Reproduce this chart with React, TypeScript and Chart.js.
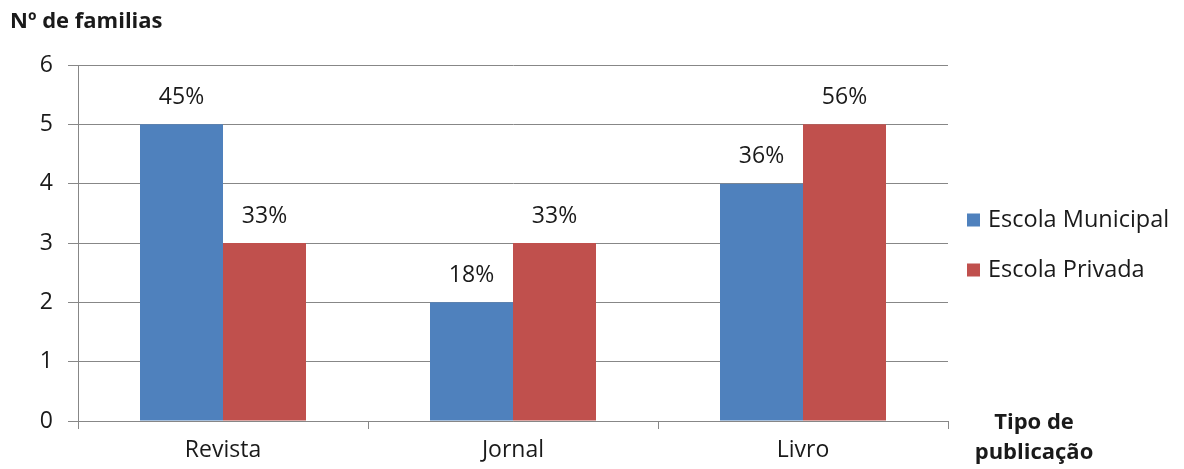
import React, { useEffect, useRef } from 'react';
import { Chart, registerables } from 'chart.js';

Chart.register(...registerables);

const categories = ['Revista', 'Jornal', 'Livro'];
const municipal = [5, 2, 4];
const privada = [3, 3, 5];
const municipalLabels = ['45%', '18%', '36%'];
const privadaLabels = ['33%', '33%', '56%'];
const seriesNames = ['Escola Municipal', 'Escola Privada'];
const seriesColors = ['#4F81BD', '#C0504D'];
const yTitle = 'Nº de familias';
const xTitleLines = ['Tipo de', 'publicação'];

const FONT = "'Open Sans', Lato, sans-serif";
const GRID = '#878787';
const TEXT = '#1a1a1a';

export default function App() {
  const ref = useRef<HTMLCanvasElement | null>(null);

  useEffect(() => {
    if (!ref.current) return;
    const labelSets = [municipalLabels, privadaLabels];
    const extras = {
      id: 'extras',
      afterDatasetsDraw(chart: any) {
        const ctx = chart.ctx;
        ctx.save();
        ctx.font = `23px ${FONT}`;
        ctx.fillStyle = TEXT;
        ctx.textAlign = 'center';
        ctx.textBaseline = 'middle';
        chart.data.datasets.forEach((_: any, di: number) => {
          const meta = chart.getDatasetMeta(di);
          meta.data.forEach((el: any, i: number) => {
            ctx.fillText(labelSets[di][i], el.x, el.y - 27);
          });
        });
        ctx.restore();
      },
      afterDraw(chart: any) {
        const ctx = chart.ctx;
        ctx.save();
        ctx.fillStyle = TEXT;
        ctx.textBaseline = 'middle';
        ctx.font = `bold 22px ${FONT}`;
        ctx.textAlign = 'left';
        ctx.fillText(yTitle, 10, 22);
        ctx.textAlign = 'center';
        ctx.fillText(xTitleLines[0], 1034, 423);
        ctx.fillText(xTitleLines[1], 1034, 453);
        // legend
        ctx.font = `23.5px ${FONT}`;
        ctx.textAlign = 'left';
        const rows = [220, 270];
        seriesNames.forEach((name, i) => {
          ctx.fillStyle = seriesColors[i];
          ctx.fillRect(967, rows[i] - 6.5, 13, 13);
          ctx.fillStyle = TEXT;
          ctx.fillText(name, 988, rows[i]);
        });
        ctx.restore();
      },
    };

    const chart = new Chart(ref.current, {
      type: 'bar',
      data: {
        labels: categories,
        datasets: [
          { label: seriesNames[0], data: municipal, backgroundColor: seriesColors[0] },
          { label: seriesNames[1], data: privada, backgroundColor: seriesColors[1] },
        ],
      },
      options: {
        animation: false,
        responsive: true,
        maintainAspectRatio: false,
        datasets: { bar: { barPercentage: 1, categoryPercentage: 0.5724 } },
        layout: { padding: { top: 65, right: 236, left: 0, bottom: 0 } },
        plugins: { legend: { display: false }, tooltip: { enabled: false } },
        scales: {
          x: {
            grid: { offset: true, drawOnChartArea: false, drawTicks: true, tickLength: 8, color: GRID },
            border: { color: GRID },
            ticks: { color: TEXT, font: { size: 23, family: FONT }, padding: 8 },
            afterFit(s: any) { s.height = 48; },
          },
          y: {
            min: 0,
            max: 6,
            ticks: { stepSize: 1, color: TEXT, font: { size: 23, family: FONT }, padding: 15 },
            grid: { color: GRID, tickLength: 10 },
            border: { color: GRID },
            afterFit(s: any) { s.width = 78; },
          },
        },
      },
      plugins: [extras],
    });
    return () => chart.destroy();
  }, []);

  return (
    <div style={{ position: 'fixed', left: 0, top: 0, width: 1184, height: 469, background: '#fff' }}>
      <canvas ref={ref} />
    </div>
  );
}
